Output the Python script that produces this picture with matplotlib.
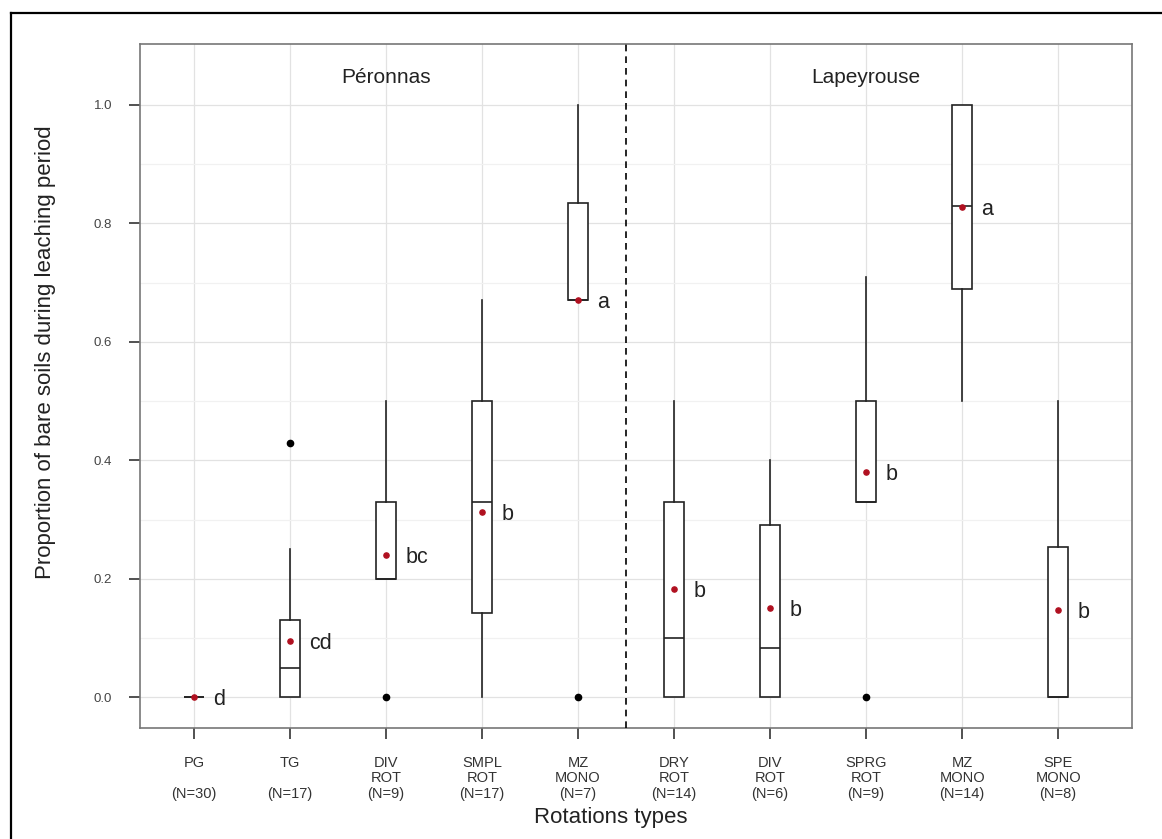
import matplotlib
matplotlib.use("Agg")
import matplotlib.pyplot as plt
from matplotlib.lines import Line2D

plt.rcParams['font.family'] = ['Liberation Sans', 'DejaVu Sans']

categories = ["PG", "TG", "DIV\nROT", "SMPL\nROT", "MZ\nMONO",
              "DRY\nROT", "DIV\nROT", "SPRG\nROT", "MZ\nMONO", "SPE\nMONO"]
n_obs = [30, 17, 9, 17, 7, 14, 6, 9, 14, 8]
q1 = [0.0, 0.0, 0.20, 0.143, 0.67, 0.0, 0.0, 0.33, 0.69, 0.0]
median = [0.0, 0.05, 0.20, 0.33, 0.67, 0.10, 0.083, 0.33, 0.83, 0.0]
q3 = [0.0, 0.13, 0.33, 0.50, 0.835, 0.33, 0.29, 0.50, 1.0, 0.254]
whisker_low = [0.0, 0.0, 0.20, 0.0, 0.67, 0.0, 0.0, 0.33, 0.50, 0.0]
whisker_high = [0.0, 0.25, 0.50, 0.67, 1.0, 0.50, 0.40, 0.71, 1.0, 0.50]
outliers = [[], [0.43], [0.0], [], [0.0], [], [], [0.0], [], []]
means = [0.0, 0.095, 0.24, 0.313, 0.67, 0.183, 0.15, 0.38, 0.827, 0.147]
letters = ["d", "cd", "bc", "b", "a", "b", "b", "b", "a", "b"]
sites = ["Péronnas", "Lapeyrouse"]
site_centers = [3.0, 8.0]

fig = plt.figure(figsize=(11.62, 8.39), dpi=100)
W, H = 1162, 839
ax = fig.add_axes([140 / W, 1 - 728 / H, (1132 - 140) / W, (728 - 44) / H])

positions = list(range(1, len(categories) + 1))
stats = []
for i in range(len(categories)):
    stats.append(dict(med=median[i], q1=q1[i], q3=q3[i],
                      whislo=whisker_low[i], whishi=whisker_high[i],
                      fliers=outliers[i], mean=means[i]))

ax.bxp(stats, positions=positions, widths=0.2, showcaps=False,
       showmeans=False, patch_artist=True,
       boxprops=dict(facecolor='white', edgecolor='#222222', linewidth=1.2),
       medianprops=dict(color='#222222', linewidth=1.2),
       whiskerprops=dict(color='#222222', linewidth=1.2),
       flierprops=dict(marker='o', markersize=4.5, markerfacecolor='black',
                       markeredgecolor='black'),
       zorder=3)

ax.scatter(positions, means, s=14, color='#b01020', zorder=5)
for p, m, lab in zip(positions, means, letters):
    ax.text(p + 0.2, m - 0.004, lab, fontsize=15.5, color='#222222',
            ha='left', va='center', zorder=6)

ax.axvline(5.5, color='black', linestyle=(0, (4, 3)), linewidth=1.2, zorder=4)
for name, cx in zip(sites, site_centers):
    ax.text(cx, 1.047, name, fontsize=15, ha='center', va='center', color='#222222')

ax.set_xlim(0.4375, 10.77)
ax.set_ylim(-0.052, 1.103)
ax.set_yticks([0.0, 0.2, 0.4, 0.6, 0.8, 1.0])
ax.set_yticklabels(["0.0", "0.2", "0.4", "0.6", "0.8", "1.0"], fontsize=9.5, color='#444444')
ax.set_yticks([0.1, 0.3, 0.5, 0.7, 0.9], minor=True)
ax.set_xticks(positions)
xlabels = []
for c, n in zip(categories, n_obs):
    if "\n" in c:
        xlabels.append(f"{c}\n(N={n})")
    else:
        xlabels.append(f"{c}\n\n(N={n})")
ax.set_xticklabels(xlabels, fontsize=10.5, color='#333333', linespacing=1.15)
ax.tick_params(axis='both', which='major', length=8, width=1.2, color='#333333')
ax.tick_params(axis='x', pad=12)
ax.tick_params(axis='y', pad=12)
ax.tick_params(axis='y', which='minor', length=0)

ax.grid(True, which='major', color='#e2e2e2', linewidth=0.9, zorder=0)
ax.grid(True, which='minor', axis='y', color='#f1f1f1', linewidth=0.9, zorder=0)
ax.set_axisbelow(True)
for s in ax.spines.values():
    s.set_color('#777777')
    s.set_linewidth(1.2)

fig.text(46 / W, 1 - 352 / H, "Proportion of bare soils during leaching period",
         rotation=90, fontsize=16, color='#222222', ha='center', va='center')
fig.text(611 / W, 1 - 818 / H, "Rotations types", fontsize=16, color='#222222',
         ha='center', va='center')

# outer frame (left and top borders of the original image)
fig.add_artist(Line2D([11 / W, 11 / W], [0, 1 - 13 / H], transform=fig.transFigure, color='black', linewidth=1.6))
fig.add_artist(Line2D([11 / W, 1], [1 - 13 / H, 1 - 13 / H], transform=fig.transFigure, color='black', linewidth=1.6))

fig.savefig("out.png", dpi=100)
